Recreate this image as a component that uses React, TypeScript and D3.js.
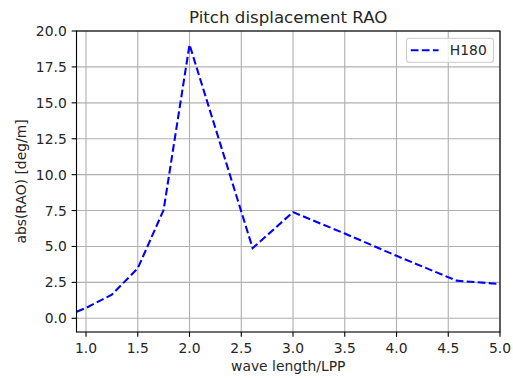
import React from "react";
import * as d3 from "d3";

const xValues = [0.91, 1.0, 1.25, 1.5, 1.75, 2.0, 2.61, 3.0, 3.5, 4.0, 4.58, 5.0];
const yValues = [0.46, 0.72, 1.65, 3.48, 7.55, 19.05, 4.88, 7.39, 5.9, 4.35, 2.62, 2.39];
const xTicks = [1.0, 1.5, 2.0, 2.5, 3.0, 3.5, 4.0, 4.5, 5.0];
const yTicks = [0.0, 2.5, 5.0, 7.5, 10.0, 12.5, 15.0, 17.5, 20.0];
const seriesName = "H180";

export default function App() {
  const W = 513, H = 378;
  const L = 76.5, R = 500, T = 31, B = 332;
  const k = 100 / 72;
  const x = d3.scaleLinear().domain([0.908, 5.0]).range([L, R]);
  const y = d3.scaleLinear().domain([-0.955, 20.0]).range([B, T]);
  const line = d3.line<number>().x((_, i) => x(xValues[i])).y((d) => y(d));
  const font = "DejaVu Sans, sans-serif";
  const fs = 10 * k;
  const dash = `${3.7 * 1.5 * k} ${1.6 * 1.5 * k}`;
  return (
    <svg width={W} height={H} style={{ position: "absolute", left: 0, top: 0 }} fontFamily={font}>
      <rect x={0} y={0} width={W} height={H} fill="white" />
      <defs>
        <clipPath id="clip">
          <rect x={L} y={T} width={R - L} height={B - T} />
        </clipPath>
      </defs>
      {xTicks.map((t) => (
        <line key={"gx" + t} x1={x(t)} x2={x(t)} y1={T} y2={B} stroke="#b0b0b0" strokeWidth={0.8 * k} />
      ))}
      {yTicks.map((t) => (
        <line key={"gy" + t} x1={L} x2={R} y1={y(t)} y2={y(t)} stroke="#b0b0b0" strokeWidth={0.8 * k} />
      ))}
      <path
        d={line(yValues) || ""}
        fill="none"
        stroke="blue"
        strokeWidth={1.5 * k}
        strokeDasharray={dash}
        clipPath="url(#clip)"
      />
      <rect x={L} y={T} width={R - L} height={B - T} fill="none" stroke="black" strokeWidth={0.8 * k} />
      {xTicks.map((t) => (
        <g key={"tx" + t}>
          <line x1={x(t)} x2={x(t)} y1={B} y2={B + 3.5 * k} stroke="black" strokeWidth={0.8 * k} />
          <text x={x(t)} y={353} fontSize={fs} textAnchor="middle" fill="#262626">
            {t.toFixed(1)}
          </text>
        </g>
      ))}
      {yTicks.map((t) => (
        <g key={"ty" + t}>
          <line x1={L - 3.5 * k} x2={L} y1={y(t)} y2={y(t)} stroke="black" strokeWidth={0.8 * k} />
          <text x={L - 7 * k} y={y(t)} dy="0.36em" fontSize={fs} textAnchor="end" fill="#262626">
            {t.toFixed(1)}
          </text>
        </g>
      ))}
      <text x={(L + R) / 2} y={22.5} fontSize={12 * k} textAnchor="middle" fill="#262626">
        Pitch displacement RAO
      </text>
      <text x={(L + R) / 2} y={370.5} fontSize={fs} textAnchor="middle" fill="#262626">
        wave length/LPP
      </text>
      <text
        transform={`translate(${26},${(T + B) / 2}) rotate(-90)`}
        fontSize={fs}
        textAnchor="middle"
        fill="#262626"
      >
        abs(RAO) [deg/m]
      </text>
      <g>
        <rect x={406.5} y={38.3} width={87} height={24} rx={2.8} fill="white" fillOpacity={0.8} stroke="#cccccc" strokeWidth={0.8 * k} />
        <line x1={410.8} x2={438.6} y1={50.3} y2={50.3} stroke="blue" strokeWidth={1.5 * k} strokeDasharray={dash} />
        <text x={449.8} y={50.3} dy="0.36em" fontSize={fs} fill="#262626">
          {seriesName}
        </text>
      </g>
    </svg>
  );
}
